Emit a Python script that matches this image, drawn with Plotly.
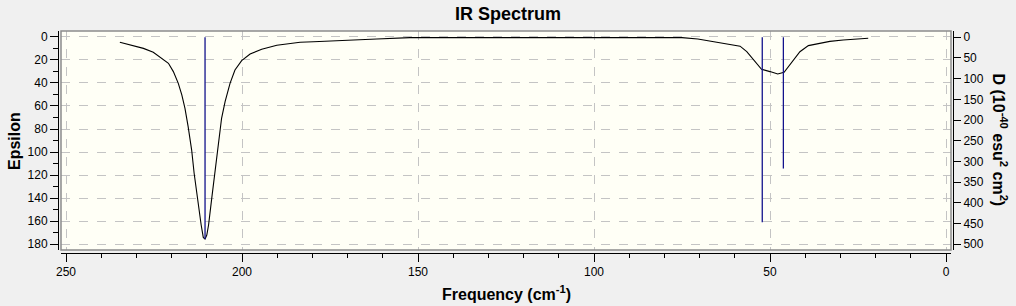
import plotly.graph_objects as go

# Spectrum curve (Frequency cm-1, Epsilon)
freq = [234.7, 231.8, 228.0, 225.2, 222.4, 220.9, 219.5, 218.1, 217.1, 216.2, 215.3,
        214.8, 214.3, 213.6, 212.9, 212.2, 211.6, 211.0, 210.5, 210.0, 209.5, 208.6,
        208.0, 207.2, 206.3, 205.8, 204.8, 203.4, 202.0, 200.1, 197.7, 194.4, 190.1,
        183.5, 179.7, 170.7, 161.7, 152.3, 110.0, 75.0, 70.5, 68.0, 64.2, 61.4, 58.5,
        56.6, 54.7, 52.4, 50.0, 47.8, 46.0, 43.8, 41.5, 39.1, 36.3, 33.0, 29.2, 25.4, 22.1]
epsilon = [4.6, 6.7, 9.9, 13.3, 19.1, 22.9, 30.1, 40.3, 50.4, 62.0, 78.0,
           86.7, 98.3, 118.5, 135.9, 150.4, 163.5, 174.2, 175.6, 172.2, 163.5, 140.3,
           124.3, 104.0, 80.9, 70.7, 56.2, 40.3, 28.7, 20.6, 14.8, 10.7, 7.2,
           4.6, 4.1, 2.6, 1.7, 0.6, 0.4, 0.6, 1.7, 2.9, 4.9, 6.1, 8.0,
           12.8, 20.0, 28.1, 30.1, 32.2, 30.7, 21.5, 12.8, 7.5, 5.5, 3.8, 2.6, 1.5, 1.1]

# Stick spectrum (Frequency, dipole strength D)
stick_freq = [210.5, 52.2, 46.2]
stick_d = [487, 447, 317]

x_ticks = [250, 200, 150, 100, 50, 0]
eps_ticks = [0, 20, 40, 60, 80, 100, 120, 140, 160, 180]
d_ticks = [0, 50, 100, 150, 200, 250, 300, 350, 400, 450, 500]

FONT = "Liberation Sans, Arial, sans-serif"

sx, sy = [], []
for f, d in zip(stick_freq, stick_d):
    sx += [f, f, None]
    sy += [0, d, None]

fig = go.Figure()
fig.add_trace(go.Scatter(x=sx, y=sy, mode="lines", yaxis="y2",
                         line=dict(color="#12128c", width=1.3), hoverinfo="skip"))
fig.add_trace(go.Scatter(x=freq, y=epsilon, mode="lines",
                         line=dict(color="black", width=1.1)))

W, H = 1016, 306
ml, mr, mt, mb = 58, 63, 31, 53
pw, ph = W - ml - mr, H - mt - mb
xd0 = (61 - ml) / pw
xd1 = (951 - ml) / pw
yd0 = (253 - 250) / ph

fig.update_layout(
    width=W, height=H,
    margin=dict(l=ml, r=mr, t=mt, b=mb),
    paper_bgcolor="#f0f0f0",
    plot_bgcolor="#fffff6",
    showlegend=False,
    font=dict(family=FONT, size=12, color="black"),
    title=dict(text="<b>IR Spectrum</b>", x=0.5, xanchor="center",
               xref="container", yref="container", y=1 - 14 / H, yanchor="middle",
               font=dict(family=FONT, size=18, color="black")),
    xaxis=dict(domain=[xd0, xd1], anchor="free", position=0,
               range=[251.42, -1.42], tickvals=x_ticks,
               ticks="outside", ticklen=8, tickcolor="black",
               showline=True, linecolor="black", linewidth=1,
               showgrid=True, gridcolor="#c4c4c4", griddash="dash", gridwidth=1,
               zeroline=False,
               minor=dict(dtick=10, ticks="outside", ticklen=4, tickcolor="black", showgrid=False)),
    yaxis=dict(domain=[yd0, 1], anchor="free", position=0,
               range=[185.2, -5.2], tickvals=eps_ticks,
               ticks="outside", ticklen=8, tickcolor="black",
               showline=True, linecolor="black", linewidth=1,
               showgrid=True, gridcolor="#c4c4c4", griddash="dash", gridwidth=1,
               zeroline=False,
               minor=dict(dtick=10, ticks="outside", ticklen=5, tickcolor="black", showgrid=False)),
    yaxis2=dict(overlaying="y", side="right", anchor="free", position=1,
                range=[513.8, -15.2], tickvals=d_ticks,
                ticks="outside", ticklen=7, tickcolor="black",
                showline=True, linecolor="black", linewidth=1,
                showgrid=False, zeroline=False),
)

# plot area border
fig.add_shape(type="rect", xref="x domain", yref="y domain", x0=0, x1=1, y0=0, y1=1,
              line=dict(color="#8c8c8c", width=1.5), layer="above")

fig.add_annotation(text="<b>Frequency (cm<sup>-1</sup>)</b>", xref="paper", yref="paper",
                   x=(506 - ml) / pw, y=(H - mb - 293) / ph, showarrow=False,
                   xanchor="center", yanchor="middle",
                   font=dict(family=FONT, size=16, color="black"))
fig.add_annotation(text="<b>Epsilon</b>", xref="paper", yref="paper",
                   x=(14 - ml) / pw, y=(H - mb - 141) / ph, showarrow=False,
                   textangle=-90, xanchor="center", yanchor="middle",
                   font=dict(family=FONT, size=16, color="black"))
fig.add_annotation(text="<b>D (10<sup>-40</sup> esu<sup>2</sup> cm<sup>2</sup>)</b>",
                   xref="paper", yref="paper",
                   x=(1000 - ml) / pw, y=(H - mb - 140.5) / ph, showarrow=False,
                   textangle=90, xanchor="center", yanchor="middle",
                   font=dict(family=FONT, size=16, color="black"))

fig.write_html("out.html")
